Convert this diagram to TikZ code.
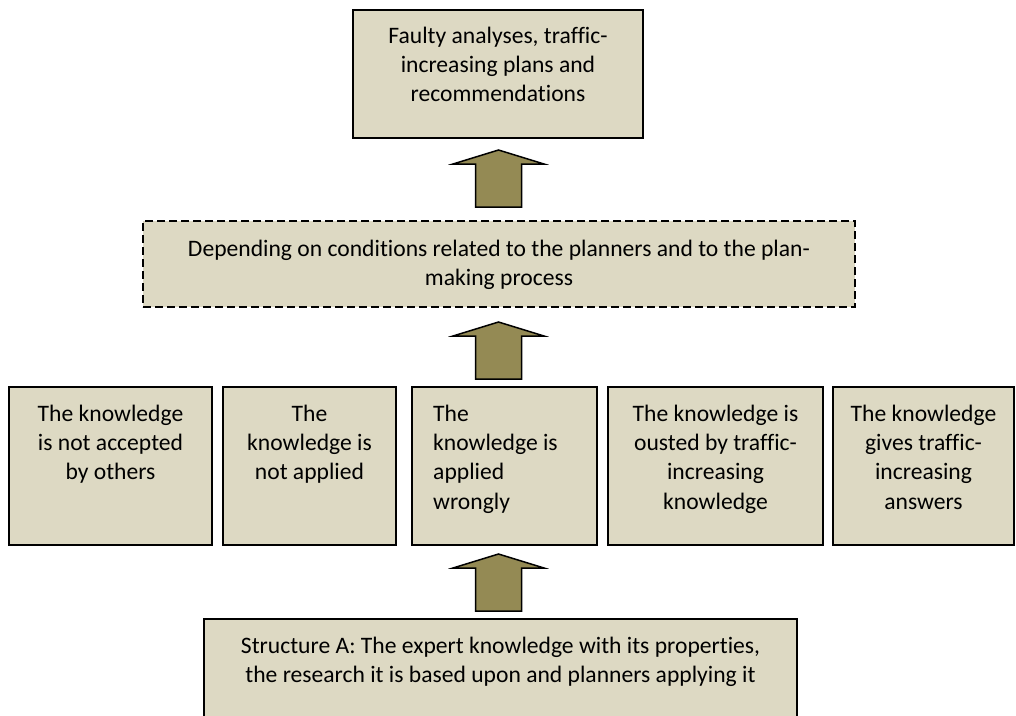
\documentclass[tikz,border=0pt]{standalone}
\usepackage{fontspec}
\setmainfont[Ligatures={NoCommon,NoRare}]{Carlito}
\usetikzlibrary{calc}
\definecolor{boxfill}{HTML}{DDD9C3}
\definecolor{arrowfill}{HTML}{948A54}
\tikzset{
  boxnode/.style={draw=black, line width=2pt, fill=boxfill, inner sep=0pt, rectangle},
  dashbox/.style={boxnode, dash pattern=on 8pt off 4pt},
  txt/.style={anchor=north, inner sep=0pt, align=center, font=\fontsize{23.6}{29.3}\selectfont},
  txtl/.style={anchor=north west, inner sep=0pt, align=left, font=\fontsize{23.6}{29.3}\selectfont},
  blockarrow/.style={draw=black, line width=1.5pt, fill=arrowfill, line join=miter},
  uparrow/.pic={\draw[blockarrow] (-23,0) -- (-23,-43) -- (-45.5,-43) -- (0,-57) -- (45.5,-43) -- (23,-43) -- (23,0) -- cycle;}
}
\begin{document}
\begin{tikzpicture}[x=1pt,y=-1pt]
\clip (0,0) rectangle (1016,715);
\fill[white] (0,0) rectangle (1016,715);
% boxes
\node[boxnode, minimum width=290pt, minimum height=128pt] (top) at (498,74) {};
\node[dashbox, minimum width=712pt, minimum height=86pt] (cond) at (499,264) {};
\node[boxnode, minimum width=203pt, minimum height=158pt] (b1) at (110.5,466) {};
\node[boxnode, minimum width=173pt, minimum height=158pt] (b2) at (309.5,466) {};
\node[boxnode, minimum width=185pt, minimum height=158pt] (b3) at (504.5,466) {};
\node[boxnode, minimum width=215pt, minimum height=158pt] (b4) at (715.5,466) {};
\node[boxnode, minimum width=181pt, minimum height=158pt] (b5) at (923.5,466) {};
\node[boxnode, minimum width=593pt, minimum height=120pt] (base) at (500.5,679) {};
% texts
\node[txt] (ttop) at (498,22.5) {\strut Faulty analyses, traffic-\\increasing plans and\\recommendations};
\node[txt] (tcond) at (499,235.5) {\strut Depending on conditions related to the planners and to the plan-\\making process};
\node[txt] (tb1) at (110.5,400.5) {\strut The knowledge\\is not accepted\\by others};
\node[txt] (tb2) at (309.5,400.5) {\strut The\\knowledge is\\not applied};
\node[txtl] (tb3) at (433,400.5) {\strut The\\knowledge is\\applied\\wrongly};
\node[txt] (tb4) at (715.5,400.5) {\strut The knowledge is\\ousted by traffic-\\increasing\\knowledge};
\node[txt] (tb5) at (923.5,400.5) {\strut The knowledge\\gives traffic-\\increasing\\answers};
\node[txt] (tbase) at (500.5,632.5) {\strut Structure A: The expert knowledge with its properties,\\the research it is based upon and planners applying it};
% arrows
\coordinate (a1) at (498.5,207);
\coordinate (a2) at (498.5,379);
\coordinate (a3) at (498.5,611);
\pic at (a1) {uparrow};
\pic at (a2) {uparrow};
\pic at (a3) {uparrow};
\end{tikzpicture}
\end{document}
